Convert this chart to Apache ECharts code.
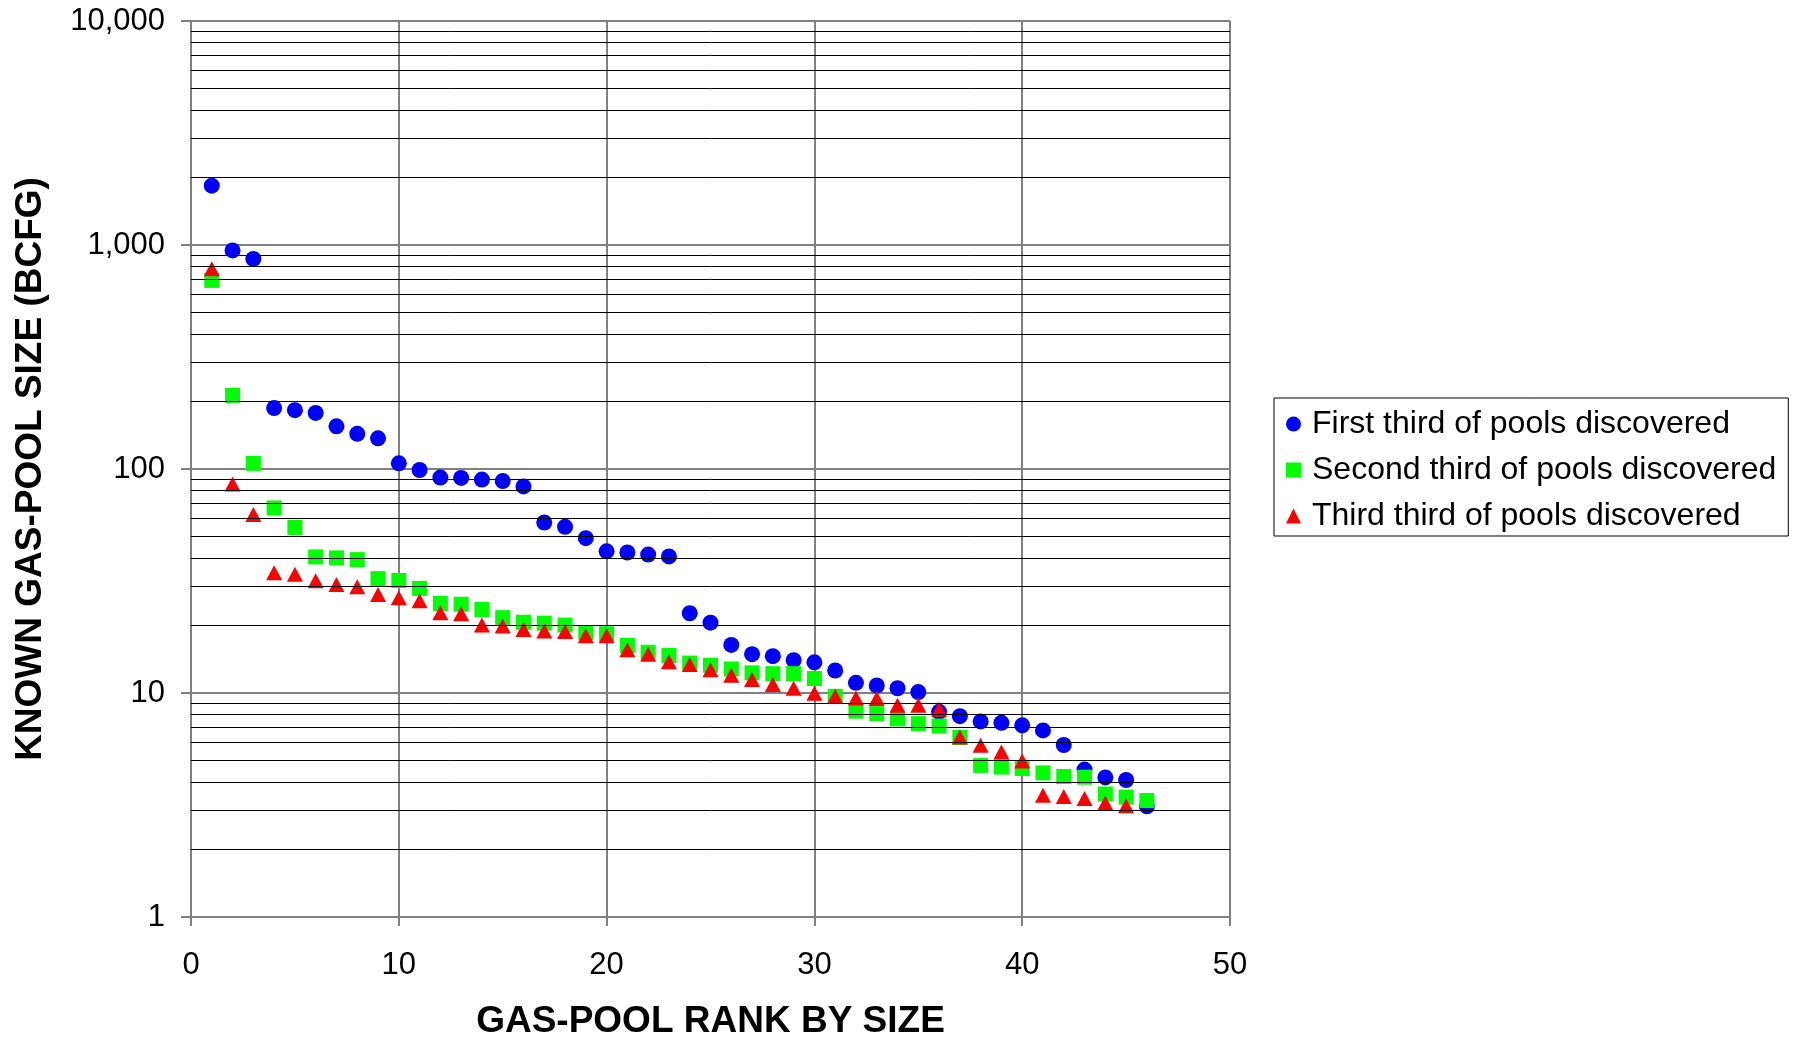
<!DOCTYPE html>
<html>
<head>
<meta charset="utf-8">
<script src="https://cdn.jsdelivr.net/npm/echarts@6/dist/echarts.min.js"></script>
<style>
html,body{margin:0;padding:0;background:#fff;}
#chart{width:1793px;height:1040px;}
</style>
</head>
<body>
<div id="chart"></div>
<script>
// Known gas-pool size (BCFG) by rank, for each third of discovery order
const firstThird = [1840, 946, 867, 187, 183, 178, 155, 143.5, 137, 106,
  99, 91.6, 91.2, 89.7, 88.3, 83.6, 57.7, 55.2, 49.1, 42.9,
  42.4, 41.5, 40.7, 22.7, 20.6, 16.4, 14.9, 14.6, 14.0, 13.7,
  12.6, 11.1, 10.8, 10.5, 10.1, 8.24, 7.88, 7.47, 7.36, 7.17,
  6.81, 5.86, 4.55, 4.20, 4.09, 3.12];
const secondThird = [695, 213, 106, 67, 54.8, 40.5, 40.1, 39.4, 32.4, 31.8,
  29.3, 25.1, 24.9, 23.6, 21.7, 20.7, 20.5, 20.1, 18.6, 18.4,
  16.3, 15.2, 14.7, 13.6, 13.3, 12.8, 12.3, 12.2, 12.2, 11.6,
  9.66, 8.3, 8.09, 7.66, 7.30, 7.12, 6.33, 4.75, 4.67, 4.60,
  4.40, 4.24, 4.21, 3.54, 3.43, 3.31];
const thirdThird = [784, 85.7, 62.6, 34.4, 33.9, 31.7, 30.5, 29.8, 27.5, 26.6,
  25.8, 22.8, 22.6, 20.1, 19.9, 19.2, 18.9, 18.8, 18.0, 18.0,
  15.6, 14.9, 13.8, 13.4, 12.7, 12.0, 11.5, 10.9, 10.5, 9.98,
  9.68, 9.51, 9.44, 8.81, 8.81, 8.46, 6.36, 5.84, 5.45, 4.97,
  3.50, 3.45, 3.38, 3.23, 3.14];
const seriesNames = ['First third of pools discovered', 'Second third of pools discovered', 'Third third of pools discovered'];
const xTicks = [0, 10, 20, 30, 40, 50];
const yTicks = [1, 10, 100, 1000, 10000];

function toPairs(arr){ return arr.map((v,i)=>[i+1, v]); }
const minorVals = [];
yTicks.slice(0, -1).forEach(d => { for (let k = 2; k <= 9; k++) minorVals.push(k * d); });
function fmt(v){ return String(Math.round(v)).replace(/\B(?=(\d{3})+(?!\d))/g, ','); }

const FONT = '"Liberation Sans", Arial, Helvetica, sans-serif';
const GRAY = '#808080';

const chart = echarts.init(document.getElementById('chart'), null, {renderer: 'canvas'});
chart.setOption({
  animation: false,
  backgroundColor: '#fff',
  grid: {left: 191, top: 21, right: 563, bottom: 123, containLabel: false, outerBoundsMode: 'none'},
  legend: {
    orient: 'vertical', left: 1274, top: 398,
    backgroundColor: '#fff', borderColor: '#000', borderWidth: 1,
    padding: [10, 12, 4, 12], itemGap: 14, itemWidth: 15, itemHeight: 15,
    textStyle: {fontFamily: FONT, fontSize: 32, color: '#000', padding: [0, 0, 0, 6]},
    data: [
      {name: seriesNames[0], icon: 'circle'},
      {name: seriesNames[1], icon: 'rect'},
      {name: seriesNames[2], icon: 'triangle'}
    ]
  },
  xAxis: {
    type: 'value', min: xTicks[0], max: xTicks[xTicks.length-1], interval: 10,
    name: 'GAS-POOL RANK BY SIZE', nameLocation: 'middle', nameGap: 86,
    nameTextStyle: {fontFamily: FONT, fontSize: 37, fontWeight: 'bold', color: '#000'},
    axisLine: {show: true, onZero: false, lineStyle: {color: GRAY, width: 2}},
    axisTick: {show: true, inside: false, length: 9, lineStyle: {color: GRAY, width: 2}},
    axisLabel: {margin: 33, fontFamily: FONT, fontSize: 31, color: '#000'},
    splitLine: {show: true, lineStyle: {color: GRAY, width: 2}}
  },
  yAxis: {
    type: 'log', logBase: 10, min: yTicks[0], max: yTicks[yTicks.length-1],
    name: 'KNOWN GAS-POOL SIZE (BCFG)', nameLocation: 'middle', nameGap: 142, nameRotate: 90,
    nameTextStyle: {fontFamily: FONT, fontSize: 37, fontWeight: 'bold', color: '#000'},
    axisLine: {show: true, lineStyle: {color: GRAY, width: 2}},
    axisTick: {show: true, inside: false, length: 10, lineStyle: {color: GRAY, width: 2}},
    axisLabel: {margin: 26, fontFamily: FONT, fontSize: 31, color: '#000', formatter: fmt},
    splitLine: {show: true, lineStyle: {color: GRAY, width: 2}}
  },
  series: [
    {
      type: 'line', name: '_grid', data: [], z: 1, silent: true,
      markLine: {
        silent: true, symbol: ['none', 'none'], animation: false,
        label: {show: false},
        lineStyle: {color: '#000', width: 1, type: 'solid'},
        emphasis: {disabled: true},
        data: minorVals.map(v => ({yAxis: v}))
      }
    },
    {
      type: 'scatter', name: seriesNames[1], data: toPairs(secondThird), z: 3,
      symbol: 'rect', symbolSize: 15, itemStyle: {color: '#00FF00', opacity: 1}
    },
    {
      type: 'scatter', name: seriesNames[2], data: toPairs(thirdThird), z: 4,
      symbol: 'triangle', symbolSize: [16, 15], itemStyle: {color: '#FF0000', opacity: 1}
    },
    {
      type: 'scatter', name: seriesNames[0], data: toPairs(firstThird), z: 2,
      symbol: 'circle', symbolSize: 16, itemStyle: {color: '#0000FF', opacity: 1}
    }
  ]
});
</script>
</body>
</html>
